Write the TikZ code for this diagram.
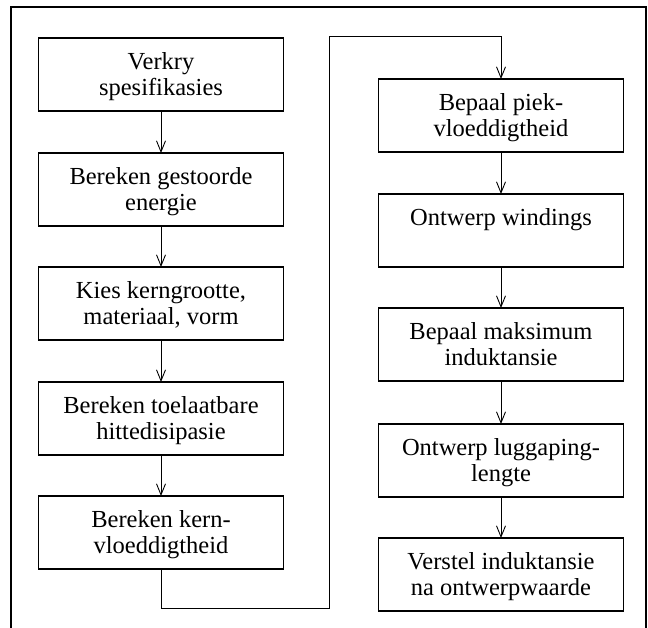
\documentclass[tikz,border=0pt]{standalone}
\usepackage{fontspec}
\setmainfont{Liberation Serif}
\usetikzlibrary{arrows.meta}
\newcommand{\topstrut}{\rule{0pt}{24pt}}
\newcommand{\botstrut}{\rule[-8pt]{0pt}{8pt}}

\begin{document}
\begin{tikzpicture}[x=1pt, y=-1pt, outer sep=0pt, >={Straight Barb[length=11pt,width=9pt]}]
\useasboundingbox (0,0) rectangle (648,628);

\tikzstyle{stage}=[draw, rectangle, line width=1.1pt, minimum height=73pt, minimum width=245pt, inner sep=0pt, align=center, anchor=north, font=\fontsize{24.5}{26}\selectfont]
\tikzstyle{flow}=[draw, line width=0.9pt, ->]

\draw[line width=2pt] (11,628) -- (11,7) -- (646,7) -- (646,628);

\node[stage] (l1) at (161,38) {\topstrut Verkry\\spesifikasies\botstrut};
\node[stage] (l2) at (161,153) {\topstrut Bereken gestoorde\\energie\botstrut};
\node[stage] (l3) at (161,267) {\topstrut Kies kerngrootte,\\materiaal, vorm\botstrut};
\node[stage] (l4) at (161,382) {\topstrut Bereken toelaatbare\\hittedisipasie\botstrut};
\node[stage] (l5) at (161,496) {\topstrut Bereken kern-\\vloeddigtheid\botstrut};

\node[stage] (r1) at (501,79) {\topstrut Bepaal piek-\\vloeddigtheid\botstrut};
\node[stage] (r2) at (501,194) {\topstrut Ontwerp windings\\\botstrut};
\node[stage] (r3) at (501,308) {\topstrut Bepaal maksimum\\induktansie\botstrut};
\node[stage] (r4) at (501,424) {\topstrut Ontwerp luggaping-\\lengte\botstrut};
\node[stage] (r5) at (501,538) {\topstrut Verstel induktansie\\na ontwerpwaarde\botstrut};

\draw[flow] (l1) -- (l2);
\draw[flow] (l2) -- (l3);
\draw[flow] (l3) -- (l4);
\draw[flow] (l4) -- (l5);

\coordinate (turn1) at (161,608); \coordinate (turn2) at (329,608);
\coordinate (turn3) at (329,36); \coordinate (turn4) at (501,36);
\draw[flow] (l5) -- (turn1) -- (turn2) -- (turn3) -- (turn4) -- (r1);

\draw[flow] (r1) -- (r2);
\draw[flow] (r2) -- (r3);
\draw[flow] (r3) -- (r4);
\draw[flow] (r4) -- (r5);

\end{tikzpicture}
\end{document}
